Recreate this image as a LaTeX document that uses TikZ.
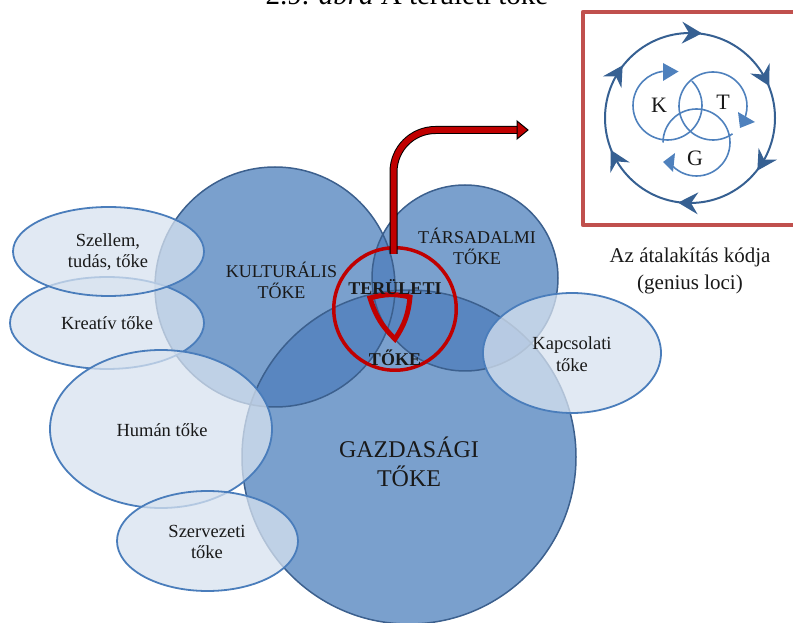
\documentclass[tikz,border=0pt]{standalone}
\usepackage{fontspec}
\setmainfont{Liberation Serif}
\usetikzlibrary{arrows.meta}
\definecolor{capfill}{RGB}{122,160,205}
\definecolor{capover}{RGB}{89,134,192}
\definecolor{capline}{RGB}{60,96,142}
\definecolor{ellfill}{RGB}{215,226,239}
\definecolor{ellline}{RGB}{74,125,187}
\definecolor{ringred}{RGB}{192,0,0}
\definecolor{boxred}{RGB}{192,80,77}
\definecolor{cycdark}{RGB}{54,96,146}
\definecolor{cyclight}{RGB}{79,129,189}
\begin{document}
\begin{tikzpicture}[x=1pt, y=1pt, line join=round,
    rim/.style={draw=capline, line width=1.5pt},
    bubble/.style={fill=ellfill, fill opacity=0.75, draw=ellline, line width=1.8pt},
    txt/.style={align=center, inner sep=0pt, text=black!90, font=\fontsize{18.5}{21.5}\selectfont},
    ring/.style={circle, draw=ringred, line width=3.5pt, minimum size=122.5pt, inner sep=0pt},
    wedge/.style={draw=ringred, line width=5pt, line join=miter},
    shaft/.style={draw=black, line width=1pt, double=ringred, double distance=6pt, rounded corners=42pt},
    headred/.style={fill=ringred, draw=black, line width=1pt, line join=miter},
    frame/.style={draw=boxred, line width=4.5pt},
    outerring/.style={draw=cycdark, line width=2pt},
    chevron/.style={fill=cycdark},
    innerring/.style={draw=cyclight, line width=1.6pt}]
  \useasboundingbox (0,0) rectangle (793,622);
  \def\kult{(275,335) circle (120)}
  \def\tars{(465,344) circle (93)}
  \def\gazd{(409,165) circle (167)}
  % the three capitals
  \fill[capfill] \gazd \kult \tars;
  \begin{scope} \clip \kult; \fill[capover] \gazd \tars; \end{scope}
  \begin{scope} \clip \tars; \fill[capover] \gazd; \end{scope}
  \draw[rim] \gazd \kult \tars;
  % the small capitals
  \draw[bubble] (107,299) ellipse [x radius=97, y radius=46];
  \draw[bubble] (108.5,370.5) ellipse [x radius=95.5, y radius=44.5];
  \draw[bubble] (161,193) ellipse [x radius=111, y radius=79];
  \draw[bubble] (207.5,81) ellipse [x radius=90.5, y radius=50];
  \draw[bubble] (572,269) ellipse [x radius=89, y radius=60];
  \node[txt] (szellem) at (108,370) {Szellem,\\tudás, tőke};
  \node[txt] (kreativ) at (107,299) {Kreatív tőke};
  \node[txt] (human) at (162,192) {Humán tőke};
  \node[txt] (szervezeti) at (207,80) {Szervezeti\\tőke};
  \node[txt] (kapcsolati) at (572,268) {Kapcsolati\\tőke};
  \node[txt, font=\fontsize{18}{21}\selectfont] (kulturalis) at (281.5,342) {KULTURÁLIS\\TŐKE};
  \node[txt, font=\fontsize{18}{21}\selectfont] (tarsadalmi) at (477,376) {TÁRSADALMI\\TŐKE};
  \node[txt, font=\fontsize{24}{29}\selectfont] (gazdasagi) at (409,160) {GAZDASÁGI\\TŐKE};
  % territorial capital
  \node[ring] (ring) at (395,313) {};
  \draw[wedge] (395,283) to[bend left=14] (370,324) to[bend left=14] (410,325) to[bend left=14] cycle;
  \node[txt, font=\bfseries\fontsize{18}{21}\selectfont] (teruleti) at (395,335) {TERÜLETI};
  \node[txt, font=\bfseries\fontsize{18}{21}\selectfont] (toke) at (395,264) {TŐKE};
  \coordinate (tip) at (517,492);
  \draw[shaft] ([xshift=-1.5pt,yshift=-8pt]ring.north) |- (tip);
  \draw[headred] (tip) ++(0,9) -- ++(11,-9) -- ++(-11,-9) -- cycle;
  % code of transformation
  \draw[frame] (583,610) rectangle (800,397);
  \coordinate (cyc) at (690,504);
  \draw[outerring] (cyc) circle (85);
  \foreach \a in {88,28,-32,-92,-152,-212}
    \fill[chevron, shift={(cyc)}, rotate=\a] (85,-9) -- (96,11) -- (85,4) -- (74,11) -- cycle;
  \draw[innerring] (667.5,516.5) ++(45:34.5) arc[start angle=45, end angle=-262, radius=34.5];
  \draw[innerring] (713,516) ++(-55:34) arc[start angle=-55, end angle=-382, radius=34];
  \draw[innerring] (696.5,479.5) ++(180:33.5) arc[start angle=180, end angle=-135, radius=33.5];
  \fill[cyclight] (663,559) -- (678.5,550.5) -- (663,541) -- cycle;
  \fill[cyclight] (738,510) -- (755,500) -- (740,494) -- cycle;
  \fill[cyclight] (675,469) -- (663,460) -- (673,450) -- cycle;
  \node[txt, font=\fontsize{22}{26}\selectfont] (k) at (659,517) {K};
  \node[txt, font=\fontsize{22}{26}\selectfont] (t) at (723,520) {T};
  \node[txt, font=\fontsize{22}{26}\selectfont] (g) at (695,464) {G};
  \node[txt, font=\fontsize{21}{27}\selectfont] (kod) at (690,351) {Az átalakítás kódja\\(genius loci)};
  \node[anchor=base, inner sep=0pt, font=\fontsize{29}{34}\selectfont] (title) at (407,617.5) {2.9. \textit{ábra} A területi tőke};
\end{tikzpicture}
\end{document}
